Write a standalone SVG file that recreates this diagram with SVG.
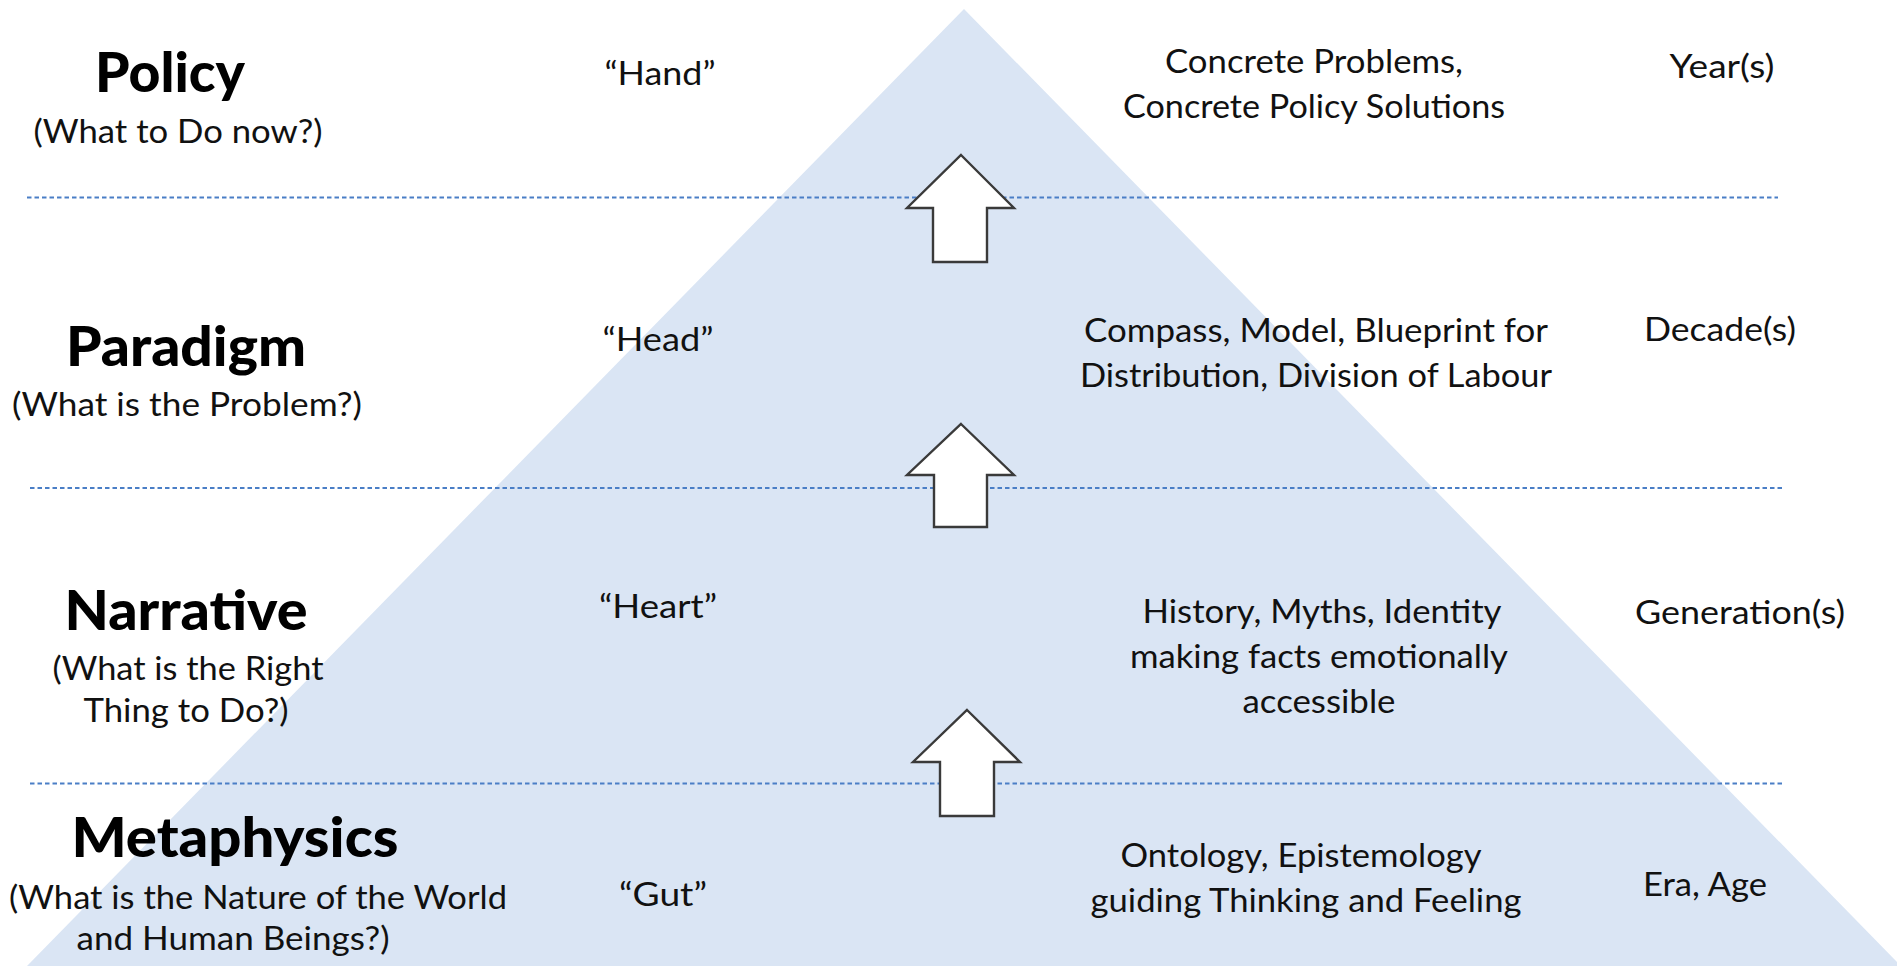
<svg xmlns="http://www.w3.org/2000/svg" width="1897" height="966" viewBox="0 0 1897 966">
<style>
.t{font-family:Lato,"Open Sans","Liberation Sans",sans-serif;fill:#000;text-anchor:middle}
.title{font-weight:900;font-size:56px}
.sub{font-size:33.5px;fill:#111}
.body{font-size:33.5px;fill:#111}
.sep{stroke:#4A7EC6;stroke-width:1.8;stroke-dasharray:4.5 3;fill:none}
.arr{fill:#fff;stroke:#3a3a3a;stroke-width:2.4;stroke-linejoin:miter}
</style>
<rect x="0" y="0" width="1897" height="966" fill="#fff"/>
<polygon id="pyramid" points="964,9 27,966 1901,966" fill="#DAE5F4"/>
<g id="separators">
<line class="sep" x1="27" y1="197.5" x2="1778" y2="197.5"/>
<line class="sep" x1="30" y1="488" x2="1782" y2="488"/>
<line class="sep" x1="30" y1="783.5" x2="1782" y2="783.5"/>
</g>
<g id="connectors">
<polygon class="arr" points="961,155 1014,208 987,208 987,262 933,262 933,208 907,208"/>
<polygon class="arr" points="961,424 1014,475 987,475 987,527 934,527 934,475 907,475"/>
<polygon class="arr" points="967,710 1020,762 994,762 994,816 940,816 940,762 913,762"/>
</g>
<g id="policy">
<text class="t title" x="170" y="92" textLength="150" lengthAdjust="spacingAndGlyphs">Policy</text>
<text class="t sub" x="178" y="143" textLength="289" lengthAdjust="spacingAndGlyphs">(What to Do now?)</text>
<text class="t body" x="660" y="85" textLength="111" lengthAdjust="spacingAndGlyphs">“Hand”</text>
<text class="t body" x="1314" y="73" textLength="298" lengthAdjust="spacingAndGlyphs">Concrete Problems,</text>
<text class="t body" x="1314" y="118" textLength="382" lengthAdjust="spacingAndGlyphs">Concrete Policy Solutions</text>
<text class="t body" x="1722" y="78" textLength="105" lengthAdjust="spacingAndGlyphs">Year(s)</text>
</g>
<g id="paradigm">
<text class="t title" x="186" y="366" textLength="240" lengthAdjust="spacingAndGlyphs">Paradigm</text>
<text class="t sub" x="187" y="416" textLength="350" lengthAdjust="spacingAndGlyphs">(What is the Problem?)</text>
<text class="t body" x="658" y="351" textLength="111" lengthAdjust="spacingAndGlyphs">“Head”</text>
<text class="t body" x="1316" y="342" textLength="464" lengthAdjust="spacingAndGlyphs">Compass, Model, Blueprint for</text>
<text class="t body" x="1316" y="387" textLength="472" lengthAdjust="spacingAndGlyphs">Distribution, Division of Labour</text>
<text class="t body" x="1720" y="341" textLength="152" lengthAdjust="spacingAndGlyphs">Decade(s)</text>
</g>
<g id="narrative">
<text class="t title" x="186" y="630" textLength="243" lengthAdjust="spacingAndGlyphs">Narrative</text>
<text class="t sub" x="188" y="680" textLength="271" lengthAdjust="spacingAndGlyphs">(What is the Right</text>
<text class="t sub" x="186" y="722" textLength="205" lengthAdjust="spacingAndGlyphs">Thing to Do?)</text>
<text class="t body" x="658" y="618" textLength="118" lengthAdjust="spacingAndGlyphs">“Heart”</text>
<text class="t body" x="1322" y="623" textLength="359" lengthAdjust="spacingAndGlyphs">History, Myths, Identity</text>
<text class="t body" x="1319" y="668" textLength="378" lengthAdjust="spacingAndGlyphs">making facts emotionally</text>
<text class="t body" x="1319" y="713" textLength="153" lengthAdjust="spacingAndGlyphs">accessible</text>
<text class="t body" x="1740" y="624" textLength="210" lengthAdjust="spacingAndGlyphs">Generation(s)</text>
</g>
<g id="metaphysics">
<text class="t title" x="235" y="857" textLength="327" lengthAdjust="spacingAndGlyphs">Metaphysics</text>
<text class="t sub" x="258" y="909" textLength="498" lengthAdjust="spacingAndGlyphs">(What is the Nature of the World</text>
<text class="t sub" x="233" y="950" textLength="313" lengthAdjust="spacingAndGlyphs">and Human Beings?)</text>
<text class="t body" x="663" y="906" textLength="88" lengthAdjust="spacingAndGlyphs">“Gut”</text>
<text class="t body" x="1301" y="867" textLength="361" lengthAdjust="spacingAndGlyphs">Ontology, Epistemology</text>
<text class="t body" x="1306" y="912" textLength="431" lengthAdjust="spacingAndGlyphs">guiding Thinking and Feeling</text>
<text class="t body" x="1705" y="896" textLength="124" lengthAdjust="spacingAndGlyphs">Era, Age</text>
</g>
</svg>
